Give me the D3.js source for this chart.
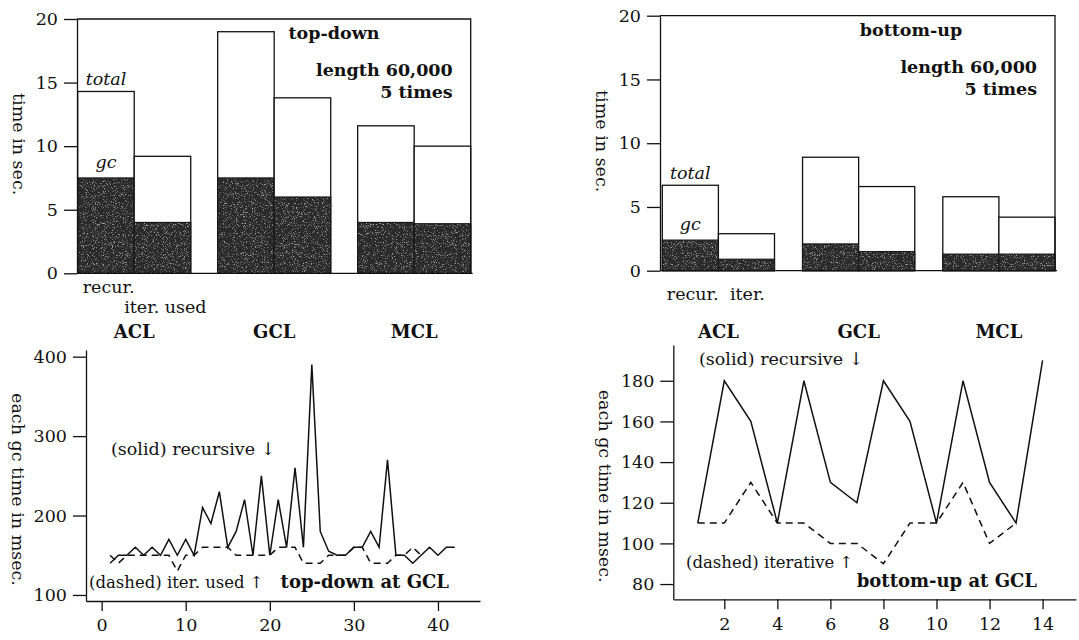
<!DOCTYPE html>
<html>
<head>
<meta charset="utf-8">
<script src="https://cdnjs.cloudflare.com/ajax/libs/d3/7.8.5/d3.min.js"></script>
<style>
  body { margin: 0; background: #fff; }
  svg text { font-family: "DejaVu Serif", "Liberation Serif", serif; fill: #111; }
</style>
</head>
<body>
<svg id="chart" width="1079" height="640"></svg>
<script>
// gc timing charts: top-down / bottom-up, recursive vs iterative

// ---- data ----
var groups = ["ACL", "GCL", "MCL"];
var methods = ["recur", "iter"];
var barTicks = [0, 5, 10, 15, 20];

// top-down, length 60,000, 5 times (sec.)
var tdRecurTotal = [14.3, 19.0, 11.6];
var tdRecurGc    = [7.5, 7.5, 4.0];
var tdIterTotal  = [9.2, 13.8, 10.0];
var tdIterGc     = [4.0, 6.0, 3.9];

// bottom-up, length 60,000, 5 times (sec.)
var buRecurTotal = [6.7, 8.9, 5.8];
var buRecurGc    = [2.4, 2.1, 1.3];
var buIterTotal  = [2.9, 6.6, 4.2];
var buIterGc     = [0.9, 1.5, 1.3];

// each gc time in msec., top-down at GCL (gc number 1, 2, ...)
var tdRecursive = [140, 150, 150, 160, 150, 160, 150, 170, 150, 170,
                   150, 210, 190, 230, 160, 180, 220, 150, 250, 150,
                   220, 160, 260, 160, 390, 180, 155, 150, 150, 160,
                   160, 180, 160, 270, 150, 150, 140, 150, 160, 150,
                   160, 160];
var tdIterative = [150, 140, 150, 150, 150, 150, 150, 150, 130, 150,
                   150, 160, 160, 160, 160, 150, 150, 150, 150, 150,
                   160, 160, 160, 140, 140, 140, 150, 150, 150, 160,
                   160, 140, 140, 140, 150, 150, 160, 150];
var tdTicksX = [0, 10, 20, 30, 40];
var tdTicksY = [100, 200, 300, 400];

// each gc time in msec., bottom-up at GCL
var buRecursive = [110, 180, 160, 110, 180, 130, 120, 180, 160, 110, 180, 130, 110, 190];
var buIterative = [110, 110, 130, 110, 110, 100, 100, 90, 110, 110, 130, 100, 110];
var buTicksX = [2, 4, 6, 8, 10, 12, 14];
var buTicksY = [80, 100, 120, 140, 160, 180];

var svg = d3.select("#chart");
var Ink = "#111", Dark = "#2c2c2c", FontSize = 17.5;

// grainy look of the printed gc fill
var grain = svg.append("defs").append("filter").attr("id", "grain")
    .attr("x", 0).attr("y", 0).attr("width", 1).attr("height", 1);
grain.append("feTurbulence").attr("type", "fractalNoise").attr("baseFrequency", 0.9)
    .attr("numOctaves", 2).attr("seed", 7).attr("result", "noise");
grain.append("feColorMatrix").attr("in", "noise").attr("type", "matrix")
    .attr("values", "0 0 0 0 0.62  0 0 0 0 0.62  0 0 0 0 0.62  3 0 0 0 -1.75")
    .attr("result", "specks");
grain.append("feComposite").attr("in", "specks").attr("in2", "SourceGraphic")
    .attr("operator", "in").attr("result", "specksIn");
var merge = grain.append("feMerge");
merge.append("feMergeNode").attr("in", "SourceGraphic");
merge.append("feMergeNode").attr("in", "specksIn");


function styleAxis(g) {
  // d3 puts sans-serif 10px on axes; use the page font instead
  g.attr("font-family", null).attr("font-size", null);
  g.selectAll("path, line").attr("stroke", Ink).attr("stroke-width", 1.3);
  g.selectAll("text").attr("font-size", FontSize).attr("fill", Ink);
}

function addText(g, x, y, str, opts) {
  opts = opts || {};
  return g.append("text")
    .attr("x", x).attr("y", y)
    .attr("font-size", opts.size || FontSize)
    .attr("font-weight", opts.bold ? "bold" : null)
    .attr("font-style", opts.italic ? "italic" : null)
    .attr("text-anchor", opts.anchor || "start")
    .text(str);
}

function addVertLabel(g, cx, cy, str) {
  g.append("text")
    .attr("transform", "translate(" + cx + "," + cy + ") rotate(90)")
    .attr("text-anchor", "middle")
    .attr("dominant-baseline", "central")
    .attr("font-size", FontSize)
    .text(str);
}


function makeBarChart(c) {
  var g = svg.append("g");
  var y = d3.scaleLinear().domain([0, 20]).range([c.y0, c.y20]);
  var x = d3.scaleBand().domain(groups).range([c.barL, c.frameR]).paddingInner(c.pad);
  var xm = d3.scaleBand().domain(methods).range([0, x.bandwidth()]);

  var rows = [];
  groups.forEach(function(grp, i) {
    rows.push({ group: grp, method: "recur", total: c.recurTotal[i], gc: c.recurGc[i] });
    rows.push({ group: grp, method: "iter",  total: c.iterTotal[i],  gc: c.iterGc[i] });
  });

  var bar = g.selectAll("g.bar").data(rows).enter().append("g").attr("class", "bar");
  bar.append("rect")
      .attr("x", function(d) { return x(d.group) + xm(d.method); })
      .attr("y", function(d) { return y(d.total); })
      .attr("width", xm.bandwidth())
      .attr("height", function(d) { return y(0) - y(d.total); })
      .attr("fill", "#fff").attr("stroke", Ink).attr("stroke-width", 1.3);
  bar.append("rect")
      .attr("x", function(d) { return x(d.group) + xm(d.method); })
      .attr("y", function(d) { return y(d.gc); })
      .attr("width", xm.bandwidth())
      .attr("height", function(d) { return y(0) - y(d.gc); })
      .attr("fill", Dark).attr("filter", "url(#grain)");
  // outline of the gc part drawn on top of the grain
  bar.append("rect")
      .attr("x", function(d) { return x(d.group) + xm(d.method); })
      .attr("y", function(d) { return y(d.gc); })
      .attr("width", xm.bandwidth())
      .attr("height", function(d) { return y(0) - y(d.gc); })
      .attr("fill", "none").attr("stroke", "#1a1a1a").attr("stroke-width", 1.2);

  // frame: top and right, then the base line
  g.append("path")
      .attr("d", "M" + c.axisX + "," + y(20) + "H" + c.frameR + "V" + y(0))
      .attr("fill", "none").attr("stroke", Ink).attr("stroke-width", 1.3);
  g.append("line")
      .attr("x1", c.axisX).attr("x2", c.frameR + 2)
      .attr("y1", y(0)).attr("y2", y(0))
      .attr("stroke", Ink).attr("stroke-width", 1.3);

  var ax = g.append("g")
      .attr("transform", "translate(" + c.axisX + ",0)")
      .call(d3.axisLeft(y).tickValues(barTicks).tickSize(13).tickPadding(6).tickSizeOuter(0));
  styleAxis(ax);

  addVertLabel(g, c.axisX - 58, (y(0) + y(20)) / 2 - 2, "time in sec.");

  // labels inside the frame
  addText(g, c.titleX, c.y20 + 20, c.title, { bold: true, anchor: "middle" });
  addText(g, c.frameR - 18, c.y20 + 57, "length 60,000", { bold: true, anchor: "end" });
  addText(g, c.frameR - 18, c.y20 + 79, "5 times", { bold: true, anchor: "end" });

  var firstX = x(groups[0]) + xm.bandwidth() / 2;
  addText(g, firstX, y(c.recurTotal[0]) - 6, "total", { italic: true, anchor: "middle" });
  addText(g, firstX, y(c.recurGc[0]) - 10, "gc", { italic: true, anchor: "middle" });

  addText(g, x(groups[0]) + c.recurDx, c.methodY1, "recur.");
  addText(g, x(groups[0]) + xm("iter") + c.iterDx, c.methodY2, c.iterLabel);

  groups.forEach(function(grp) {
    addText(g, x(grp) + x.bandwidth() / 2, 338, grp, { bold: true, anchor: "middle", size: 18 });
  });
}


function makeLineChart(c) {
  var g = svg.append("g");
  var x = d3.scaleLinear().domain(c.xDomain).range([c.axisX, c.xEnd]);
  var y = d3.scaleLinear().domain(c.yDomain).range([c.axisY, c.yTop]);

  var ay = g.append("g")
      .attr("transform", "translate(" + c.axisX + ",0)")
      .call(d3.axisLeft(y).tickValues(c.yTicks).tickSize(13).tickPadding(6).tickSizeOuter(0));
  styleAxis(ay);
  var ax = g.append("g")
      .attr("transform", "translate(0," + c.axisY + ")")
      .call(d3.axisBottom(x).tickValues(c.xTicks).tickSize(10).tickPadding(8).tickSizeOuter(0));
  styleAxis(ax);

  var line = d3.line()
      .x(function(d, i) { return x(i + 1); })
      .y(function(d) { return y(d); });

  g.append("path").datum(c.iterative)
      .attr("d", line)
      .attr("fill", "none").attr("stroke", Ink).attr("stroke-width", 1.5)
      .attr("stroke-dasharray", "7,5");
  g.append("path").datum(c.recursive)
      .attr("d", line)
      .attr("fill", "none").attr("stroke", Ink).attr("stroke-width", 1.5)
      .attr("stroke-linejoin", "miter");

  addVertLabel(g, c.labelX, (c.axisY + c.yTop) / 2 + 14, "each gc time in msec.");

  addText(g, c.solidPos[0], c.solidPos[1], "(solid) recursive \u2193");
  addText(g, c.dashPos[0], c.dashPos[1], c.dashLabel, { size: 16.5 });
  addText(g, c.titlePos[0], c.titlePos[1], c.title, { bold: true, anchor: "end", size: 18 });
}


makeBarChart({
  axisX: 77, barL: 77.7, frameR: 470.7, pad: 0.1925, y0: 273.3, y20: 19,
  recurTotal: tdRecurTotal, recurGc: tdRecurGc, iterTotal: tdIterTotal, iterGc: tdIterGc,
  title: "top-down", titleX: 334,
  recurDx: 5, iterDx: -10, methodY1: 293, methodY2: 313, iterLabel: "iter. used"
});

makeBarChart({
  axisX: 660, barL: 662.3, frameR: 1055, pad: 0.2, y0: 270.7, y20: 15.7,
  recurTotal: buRecurTotal, recurGc: buRecurGc, iterTotal: buIterTotal, iterGc: buIterGc,
  title: "bottom-up", titleX: 911,
  recurDx: 4.5, iterDx: 11.5, methodY1: 300, methodY2: 300, iterLabel: "iter."
});

makeLineChart({
  axisX: 86, xEnd: 480, xDomain: [-1.86, 45],
  axisY: 601, yTop: 350, yDomain: [92.4, 408.4],
  xTicks: tdTicksX, yTicks: tdTicksY,
  recursive: tdRecursive, iterative: tdIterative,
  labelX: 18,
  solidPos: [111, 455], dashPos: [89, 588], dashLabel: "(dashed) iter. used \u2191",
  titlePos: [449, 588], title: "top-down at GCL"
});

makeLineChart({
  axisX: 673.3, xEnd: 1076, xDomain: [0.077, 15.26],
  axisY: 599.3, yTop: 345, yDomain: [72.5, 197.6],
  xTicks: buTicksX, yTicks: buTicksY,
  recursive: buRecursive, iterative: buIterative,
  labelX: 605,
  solidPos: [699, 365], dashPos: [686, 568], dashLabel: "(dashed) iterative \u2191",
  titlePos: [1037, 587], title: "bottom-up at GCL"
});
</script>
</body>
</html>
